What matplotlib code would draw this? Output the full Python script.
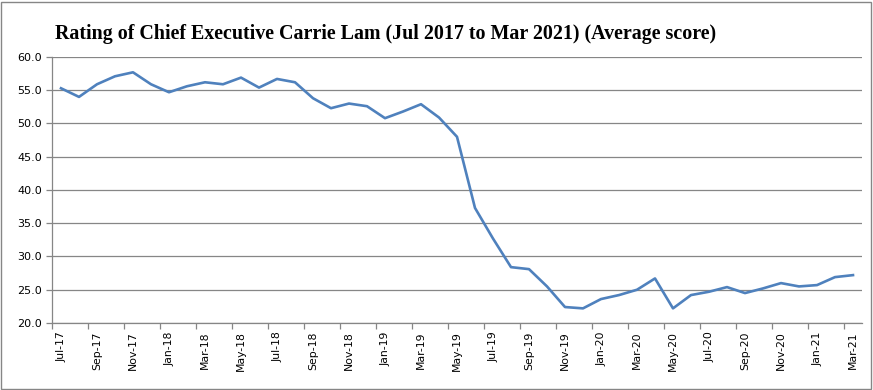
import numpy as np
import matplotlib.pyplot as plt
from matplotlib.patches import Rectangle

months = ['Jul-17', 'Aug-17', 'Sep-17', 'Oct-17', 'Nov-17', 'Dec-17',
          'Jan-18', 'Feb-18', 'Mar-18', 'Apr-18', 'May-18', 'Jun-18',
          'Jul-18', 'Aug-18', 'Sep-18', 'Oct-18', 'Nov-18', 'Dec-18',
          'Jan-19', 'Feb-19', 'Mar-19', 'Apr-19', 'May-19', 'Jun-19',
          'Jul-19', 'Aug-19', 'Sep-19', 'Oct-19', 'Nov-19', 'Dec-19',
          'Jan-20', 'Feb-20', 'Mar-20', 'Apr-20', 'May-20', 'Jun-20',
          'Jul-20', 'Aug-20', 'Sep-20', 'Oct-20', 'Nov-20', 'Dec-20',
          'Jan-21', 'Feb-21', 'Mar-21']
scores = [55.3, 54.0, 55.9, 57.1, 57.7, 55.9,
          54.7, 55.6, 56.2, 55.9, 56.9, 55.4,
          56.7, 56.2, 53.8, 52.3, 53.0, 52.6,
          50.8, 51.8, 52.9, 50.9, 48.0, 37.3,
          32.7, 28.4, 28.1, 25.5, 22.4, 22.2,
          23.6, 24.2, 25.0, 26.7, 22.2, 24.2,
          24.7, 25.4, 24.5, 25.2, 26.0, 25.5,
          25.7, 26.9, 27.2]
yticks = [20, 25, 30, 35, 40, 45, 50, 55, 60]

W, H = 873, 390
fig = plt.figure(figsize=(W / 100, H / 100), dpi=100)
fig.patches.append(Rectangle((1 / W, 1 / H), 1 - 3 / W, 1 - 3 / H, transform=fig.transFigure,
                             fill=False, edgecolor='#868686', linewidth=1))

ax = fig.add_axes([52 / W, (H - 323) / H, 810 / W, 266 / H])
x = np.arange(len(months))
ax.plot(x, scores, color='#4F81BD', linewidth=1.9, solid_joinstyle='round')

ax.set_xlim(-0.5, len(months) - 0.5)
ax.set_ylim(20, 60)
ax.set_yticks(yticks)
ax.set_yticklabels(['%.1f' % v for v in yticks], fontsize=8, family='DejaVu Sans')
ax.yaxis.grid(True, color='#868686', linewidth=0.9)
ax.set_axisbelow(True)

ax.set_xticks(x[::2])
ax.set_xticklabels(months[::2], rotation=90, fontsize=7.8, family='DejaVu Sans')
ax.set_xticks(np.arange(-0.5, len(months), 2), minor=True)
ax.tick_params(axis='x', which='major', length=0, pad=6)
ax.tick_params(axis='x', which='minor', length=4, color='#868686', width=0.9)
ax.tick_params(axis='y', length=4, color='#868686', width=0.9, pad=3)

for s in ['top', 'right']:
    ax.spines[s].set_visible(False)
for s in ['left', 'bottom']:
    ax.spines[s].set_color('#868686')
    ax.spines[s].set_linewidth(0.9)

fig.text(55 / W, 1 - 38.5 / H, 'Rating of Chief Executive Carrie Lam (Jul 2017 to Mar 2021) (Average score)',
         fontsize=14.4, fontweight='bold', family='Liberation Serif', ha='left', va='baseline')

fig.savefig('out.png', dpi=100)
